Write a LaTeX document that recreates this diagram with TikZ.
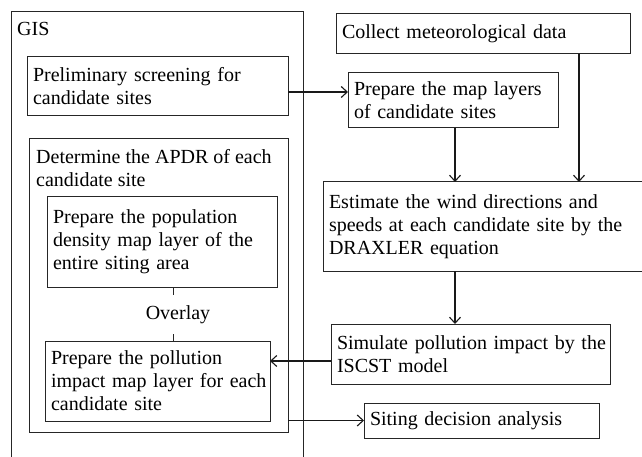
\documentclass[tikz,border=0pt]{standalone}
\usepackage{fontspec}
\setmainfont{Liberation Serif}
\usetikzlibrary{arrows.meta}
\begin{document}
\begin{tikzpicture}[x=1pt,y=-1pt,
  every node/.style={font=\fontsize{20}{23}\selectfont},
  box/.style={draw=black!85, line width=1pt, rectangle, anchor=north west, align=left,
    inner xsep=6pt, inner ysep=0pt, outer sep=0pt},
  arr/.style={draw=black!90, line width=1.1pt, -{Straight Barb[length=6pt,width=11pt]}},
  ln/.style={draw=black!85, line width=1pt}]
\useasboundingbox (0,0) rectangle (642,457);
\fill[white] (0,0) rectangle (642,457);
% GIS frame (open at the bottom)
\draw[ln] (11,460) -- (11,12) -- (303,12) -- (303,460);
\node[anchor=base west, inner sep=0pt] (gis) at (17,35.7) {GIS};
% left column
\node[box, text width=249pt, minimum height=59pt] (pre) at (27,57)
  {\mbox{Preliminary screening for}\\\mbox{candidate sites}};
\node[box, minimum width=259pt, minimum height=293pt] (apdr) at (29,139) {};
\node[anchor=north west, align=left, inner sep=0pt] (apdrt) at (36,149.5)
  {Determine the APDR of each\\candidate site};
\node[box, text width=218pt, minimum height=90pt] (pop) at (47,197)
  {\mbox{Prepare the population}\\\mbox{density map layer of the}\\\mbox{entire siting area}};
\node[box, text width=213pt, minimum height=80pt] (pol) at (45,341)
  {\mbox{Prepare the pollution}\\\mbox{impact map layer for each}\\\mbox{candidate site}};
\node[inner xsep=0pt, inner ysep=10.5pt, outer sep=0pt] (ov) at (178,314.5) {Overlay};
% right column
\node[box, text width=282pt, minimum height=40pt] (col) at (336,14)
  {\mbox{Collect meteorological data}};
\node[box, text width=198pt, minimum height=55pt] (map) at (348,73)
  {\mbox{Prepare the map layers}\\\mbox{of candidate sites}};
\node[box, text width=309pt, minimum height=89pt] (est) at (323,182)
  {\mbox{Estimate the wind directions and}\\\mbox{speeds at each candidate site by the}\\\mbox{DRAXLER equation}};
\node[box, text width=267pt, minimum height=60pt] (sim) at (331,324)
  {\mbox{Simulate pollution impact by the}\\\mbox{ISCST model}};
\node[box, text width=223pt, minimum height=35pt] (sit) at (364,403)
  {\mbox{Siting decision analysis}};
% helper coordinates
\coordinate (xa) at (455,0);
\coordinate (xb) at (579,0);
\coordinate (xo) at (173,0);
\coordinate (ya) at (0,92);
\coordinate (yb) at (0,361);
% connectors
\draw[ln] (pop.south -| xo) -- (ov.north -| xo);
\draw[ln] (ov.south -| xo) -- (pol.north -| xo);
\draw[arr] (pre.east |- ya) -- (map.west |- ya);
\draw[arr] (map.south -| xa) -- (est.north -| xa);
\draw[arr] (col.south -| xb) -- (est.north -| xb);
\draw[arr] (est.south -| xa) -- (sim.north -| xa);
\draw[arr] (sim.west |- yb) -- (pol.east |- yb);
\draw[arr] (apdr.east |- sit.west) -- (sit.west);
\end{tikzpicture}
\end{document}
